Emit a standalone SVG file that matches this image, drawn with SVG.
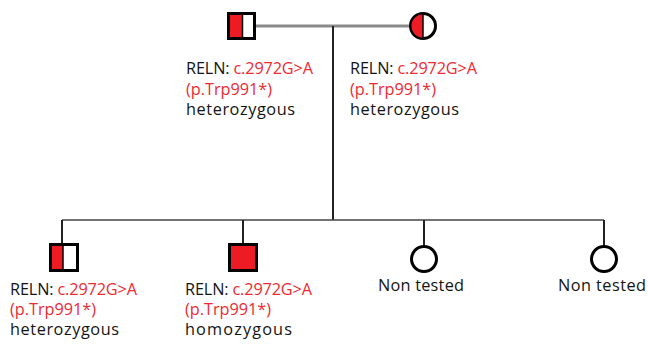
<svg xmlns="http://www.w3.org/2000/svg" width="648" height="346" viewBox="0 0 648 346">
  <style>
    .sym { fill: #ffffff; stroke: #000000; stroke-width: 3; }
    .aff { fill: #ed1c24; stroke: none; }
    .div { stroke: #000000; stroke-width: 1.5; }
    .lbl { font-family: "Open Sans", "Liberation Sans", sans-serif; font-size: 16.3px; fill: #141414; }
    .var { fill: #ee2a33; }
    .mate { stroke: #8a8a8a; stroke-width: 3; fill: none; }
    .line { stroke: #222222; stroke-width: 2; fill: none; }
    .sib { stroke: #444444; stroke-width: 1.5; fill: none; }
  </style>

  <!-- connectors: mating line, line of descent, sibship line and child drops -->
  <g id="connectors">
    <line class="mate" x1="256" y1="26" x2="409" y2="26"/>
    <line class="line" x1="333" y1="26" x2="333" y2="220"/>
    <line class="sib" x1="62" y1="220" x2="604" y2="220"/>
    <line class="line" x1="62" y1="220" x2="62" y2="244"/>
    <line class="line" x1="243" y1="220" x2="243" y2="244"/>
    <line class="line" x1="424" y1="220" x2="424" y2="245"/>
    <line class="line" x1="604" y1="220" x2="604" y2="245"/>
  </g>

  <!-- father: heterozygous carrier -->
  <g id="father">
    <rect class="sym" x="228.5" y="13.5" width="26" height="25"/>
    <rect class="aff" x="230" y="15" width="12.5" height="22"/>
    <line class="div" x1="242.5" y1="15" x2="242.5" y2="37"/>
    <text class="lbl" x="186" y="74" textLength="127" lengthAdjust="spacing">RELN: <tspan class="var">c.2972G&gt;A</tspan></text>
    <text class="lbl var" x="186" y="94.5" textLength="86" lengthAdjust="spacing">(p.Trp991*)</text>
    <text class="lbl" x="186" y="114.5" textLength="109" lengthAdjust="spacing">heterozygous</text>
  </g>

  <!-- mother: heterozygous carrier -->
  <g id="mother">
    <circle class="sym" cx="423" cy="26" r="12.5"/>
    <path class="aff" d="M423,14.5 A11.5,11.5 0 0 0 423,37.5 Z"/>
    <line class="div" x1="423" y1="14" x2="423" y2="38"/>
    <text class="lbl" x="350" y="74" textLength="127" lengthAdjust="spacing">RELN: <tspan class="var">c.2972G&gt;A</tspan></text>
    <text class="lbl var" x="350" y="94.5" textLength="86" lengthAdjust="spacing">(p.Trp991*)</text>
    <text class="lbl" x="350" y="114.5" textLength="109" lengthAdjust="spacing">heterozygous</text>
  </g>

  <!-- son 1: heterozygous carrier -->
  <g id="son1">
    <rect class="sym" x="50.5" y="244.5" width="27" height="26"/>
    <rect class="aff" x="52" y="246" width="11" height="23"/>
    <line class="div" x1="63" y1="246" x2="63" y2="269"/>
    <text class="lbl" x="10" y="294.5" textLength="127" lengthAdjust="spacing">RELN: <tspan class="var">c.2972G&gt;A</tspan></text>
    <text class="lbl var" x="10" y="314.5" textLength="86" lengthAdjust="spacing">(p.Trp991*)</text>
    <text class="lbl" x="10" y="334.5" textLength="109" lengthAdjust="spacing">heterozygous</text>
  </g>

  <!-- son 2: homozygous, affected -->
  <g id="son2">
    <rect class="sym" x="229.5" y="244.5" width="27" height="26" style="fill:#ed1c24"/>
    <text class="lbl" x="185" y="294.5" textLength="127" lengthAdjust="spacing">RELN: <tspan class="var">c.2972G&gt;A</tspan></text>
    <text class="lbl var" x="185" y="314.5" textLength="86" lengthAdjust="spacing">(p.Trp991*)</text>
    <text class="lbl" x="185" y="334.5" textLength="107" lengthAdjust="spacing">homozygous</text>
  </g>

  <!-- daughter 1: not tested -->
  <g id="daughter1">
    <circle class="sym" cx="424" cy="259" r="12.5"/>
    <text class="lbl" x="378" y="291" textLength="86" lengthAdjust="spacing">Non tested</text>
  </g>

  <!-- daughter 2: not tested -->
  <g id="daughter2">
    <circle class="sym" cx="604" cy="259" r="12.5"/>
    <text class="lbl" x="558" y="291" textLength="88" lengthAdjust="spacing">Non tested</text>
  </g>
</svg>
